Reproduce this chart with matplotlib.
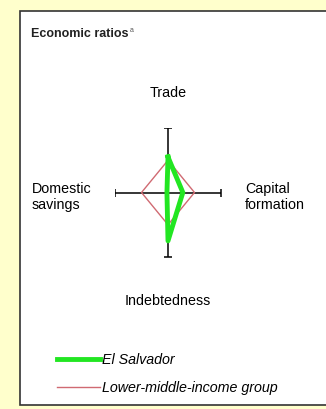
import matplotlib
matplotlib.use('Agg')
import matplotlib.pyplot as plt
from matplotlib.patches import Rectangle
import numpy as np

# Datos del gráfico (valores normalizados, 1 = extremo del eje)
axis_names = ['Trade', 'Capital\nformation', 'Indebtedness', 'Domestic\nsavings']
el_salvador = [0.55, 0.28, 0.75, 0.02]
lower_middle = [0.50, 0.50, 0.50, 0.50]
series_labels = ['El Salvador', 'Lower-middle-income group']

W, H = 326, 409
plt.rcParams['font.family'] = ['Liberation Sans', 'DejaVu Sans']

fig = plt.figure(figsize=(W / 100, H / 100), dpi=100)
fig.patch.set_facecolor('#ffffcc')


def fx(px):
    return px / W


def fy(py):
    return 1 - py / H


# Panel blanco con borde
fig.patches.append(Rectangle((fx(20), fy(405)), fx(330) - fx(20), fy(11) - fy(405),
                             transform=fig.transFigure, facecolor='white',
                             edgecolor='#333333', linewidth=1.2, zorder=-5))

# Ejes del diamante
ax = fig.add_axes([fx(115), fy(257), fx(221) - fx(115), fy(128) - fy(257)])
ax.set_zorder(2)
ax.set_xlim(-1, 1)
ax.set_ylim(-1, 1)
ax.axis('off')
ax.patch.set_alpha(0)

# Direcciones: arriba, derecha, abajo, izquierda
dirs = np.array([[0, 1], [1, 0], [0, -1], [-1, 0]])

ax.plot([-1, 1], [0, 0], color='black', lw=1.1, zorder=1)
ax.plot([0, 0], [-1, 1], color='black', lw=1.1, zorder=1)
ax.plot([0, 0], [-1, 1], ls='none', marker='_', ms=6, mew=1.1, color='black')
ax.plot([-1, 1], [0, 0], ls='none', marker='|', ms=6, mew=1.1, color='black')


def polygon(vals):
    pts = dirs * np.array(vals)[:, None]
    pts = np.vstack([pts, pts[:1]])
    return pts[:, 0], pts[:, 1]


x, y = polygon(lower_middle)
ax.plot(x, y, color='#d06a72', lw=1.0, zorder=2, label=series_labels[1])
x, y = polygon(el_salvador)
ax.plot(x, y, color='#22e622', lw=3.5, zorder=3, solid_joinstyle='round',
        label=series_labels[0])

# Etiquetas de los ejes
fs = 10.3
fig.text(fx(168), fy(93), axis_names[0], ha='center', va='center', fontsize=fs)
fig.text(fx(245), fy(197), axis_names[1], ha='left', va='center', fontsize=fs,
         linespacing=1.15)
fig.text(fx(168), fy(301), axis_names[2], ha='center', va='center', fontsize=fs)
fig.text(fx(32), fy(197), axis_names[3], ha='left', va='center', fontsize=fs,
         linespacing=1.15)

# Título
fig.text(fx(31), fy(37), 'Economic ratios', ha='left', va='baseline',
         fontsize=9.0, fontweight='bold', color='#222222')
fig.text(fx(130), fy(32), 'a', ha='left', va='baseline', fontsize=5, color='#555555')

# Leyenda
h, l = ax.get_legend_handles_labels()
fig.legend(h[::-1], l[::-1], loc='upper left', bbox_to_anchor=(fx(57), fy(353)),
           frameon=False, prop={'size': fs, 'style': 'italic'},
           handlelength=3.0, handletextpad=0.15, labelspacing=0.95,
           borderaxespad=0, borderpad=0)

fig.savefig('out.png', dpi=100, facecolor=fig.get_facecolor())
